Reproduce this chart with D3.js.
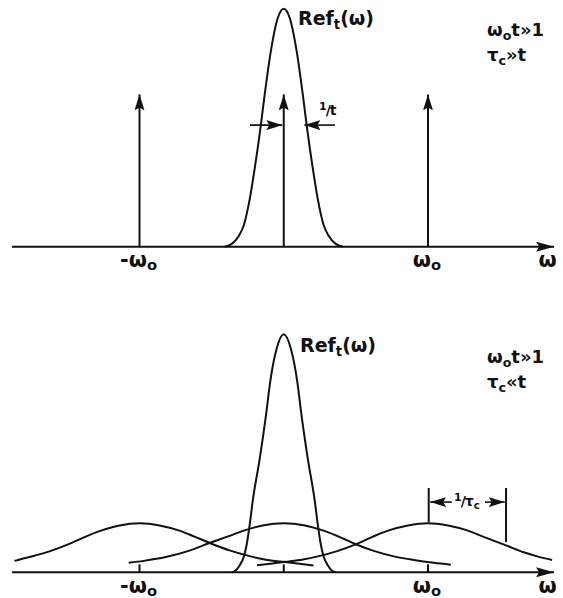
<!DOCTYPE html>
<html>
<head>
<meta charset="utf-8">
<script src="https://cdn.jsdelivr.net/npm/d3@7"></script>
<style>
  html, body { margin: 0; padding: 0; background: #fff; }
  svg { display: block; }
  text { font-family: "DejaVu Sans", "Liberation Sans", sans-serif; font-weight: bold; fill: #111; }
</style>
</head>
<body>
<svg></svg>
<script>
// axis ticks (in units of omega_0)
var omegaTicks = [-1, 0, 1];
var tickMain = ["-ω", "", "ω"];
var tickSub = ["o", "", "o"];

// delta functions of the upper panel
var deltaOmega = [-1, 0, 1];
var deltaWeight = [0.64, 0.64, 0.64];

// Ref_t(omega), upper panel
var refTopOmega = [-0.409, -0.360, -0.312, -0.277, -0.236, -0.201, -0.159, -0.132, -0.090, -0.042, 0,
    0.042, 0.090, 0.132, 0.159, 0.201, 0.236, 0.277, 0.312, 0.360, 0.409];
var refTopValue = [0, 0.012, 0.045, 0.09, 0.20, 0.33, 0.51, 0.64, 0.82, 0.96, 1,
    0.96, 0.82, 0.64, 0.51, 0.33, 0.20, 0.09, 0.045, 0.012, 0];

// Ref_t(omega), lower panel
var refBottomOmega = [-0.360, -0.333, -0.305, -0.277, -0.256, -0.236, -0.215, -0.166, -0.121, -0.094, -0.049, 0,
    0.049, 0.094, 0.121, 0.166, 0.215, 0.236, 0.256, 0.277, 0.305, 0.333, 0.360];
var refBottomValue = [0, 0.008, 0.03, 0.065, 0.12, 0.2, 0.3, 0.48, 0.67, 0.8, 0.94, 1,
    0.94, 0.8, 0.67, 0.48, 0.3, 0.2, 0.12, 0.065, 0.03, 0.008, 0];

// broadened lines, lower panel
var lineLeftOmega = [-1.867, -1.763, -1.624, -1.499, -1.381, -1.277, -1.139, -1, -0.861, -0.723, -0.619,
    -0.501, -0.376, -0.237, -0.133, 0.005, 0.109, 0.206];
var lineLeftValue = [0.048, 0.064, 0.088, 0.116, 0.148, 0.173, 0.197, 0.206, 0.197, 0.175, 0.150,
    0.120, 0.092, 0.068, 0.054, 0.043, 0.036, 0.029];

var lineMidOmega = [-1.075, -0.971, -0.818, -0.659, -0.520, -0.381, -0.277, -0.139, 0, 0.139, 0.277,
    0.381, 0.499, 0.624, 0.763, 0.901, 1.040, 1.158];
var lineMidValue = [0.040, 0.048, 0.064, 0.090, 0.122, 0.152, 0.175, 0.198, 0.206, 0.198, 0.175,
    0.150, 0.118, 0.090, 0.067, 0.052, 0.040, 0.032];

var lineRightOmega = [-0.185, -0.109, 0.009, 0.133, 0.237, 0.376, 0.494, 0.619, 0.723, 0.861, 1,
    1.139, 1.277, 1.381, 1.541, 1.659, 1.763, 1.860];
var lineRightValue = [0.030, 0.035, 0.044, 0.054, 0.067, 0.090, 0.116, 0.150, 0.175, 0.197, 0.206,
    0.197, 0.175, 0.150, 0.113, 0.085, 0.066, 0.052];

var width = 563, height = 598;

var svg = d3.select("svg")
    .attr("width", width)
    .attr("height", height);

svg.append("rect").attr("width", width).attr("height", height).attr("fill", "#fff");

var defs = svg.append("defs");
defs.append("marker")
    .attr("id", "head")
    .attr("viewBox", "0 0 16 10")
    .attr("refX", 16).attr("refY", 5)
    .attr("markerUnits", "userSpaceOnUse")
    .attr("markerWidth", 16).attr("markerHeight", 10)
    .attr("orient", "auto")
  .append("path")
    .attr("d", "M0,0 L16,5 L0,10 L3,5 Z")
    .attr("fill", "#111");
defs.append("marker")
    .attr("id", "axhead")
    .attr("viewBox", "0 0 18 10")
    .attr("refX", 18).attr("refY", 5)
    .attr("markerUnits", "userSpaceOnUse")
    .attr("markerWidth", 18).attr("markerHeight", 10)
    .attr("orient", "auto")
  .append("path")
    .attr("d", "M0,0 L18,5 L0,10 L3,5 Z")
    .attr("fill", "#111");

var x = d3.scaleLinear().domain([-1, 1]).range([139.5, 428]);

function zip(a, b) { return a.map(function (v, i) { return [v, b[i]]; }); }

// text with subscripts: parts = [[string, isSub], ...]
function label(g, px, py, parts, size, anchor, drop) {
    drop = drop || 4;
    var t = g.append("text")
        .attr("x", px).attr("y", py)
        .attr("font-size", size)
        .attr("text-anchor", anchor || "start");
    var shift = 0;
    parts.forEach(function (p) {
        var s = t.append("tspan").text(p[0]);
        if (p[1] && !shift) { s.attr("font-size", size * 0.7).attr("dy", drop); shift = drop; }
        else if (!p[1] && shift) { s.attr("dy", -shift); shift = 0; }
    });
    return t;
}

// "1/x" written as a small slanted fraction
function fraction(g, px, py, parts) {
    var t = g.append("text").attr("x", px).attr("y", py);
    t.append("tspan").attr("font-size", 11).attr("dy", -5).text("1");
    t.append("tspan").attr("font-size", 14).attr("dx", -1).attr("dy", 5).text("/");
    parts.forEach(function (p, i) {
        var s = t.append("tspan").text(p[0]).attr("dx", i ? 0 : -1);
        if (p[1]) s.attr("font-size", 10).attr("dy", 3);
        else s.attr("font-size", 14);
    });
    return t;
}

function panel(axisY) {
    var y = d3.scaleLinear().domain([0, 1]).range([axisY, axisY - 238]);
    var g = svg.append("g");

    // omega axis
    g.append("line")
        .attr("x1", x(-1.884)).attr("x2", x(1.874))
        .attr("y1", y(0)).attr("y2", y(0))
        .attr("stroke", "#111").attr("stroke-width", 2)
        .attr("marker-end", "url(#axhead)");

    label(g, x(1.83), y(0) + 20.5, [["ω"]], 21, "middle");

    omegaTicks.forEach(function (d, i) {
        if (!tickMain[i]) return;
        label(g, x(d) - 1, y(0) + 20.5, [[tickMain[i]], [tickSub[i], true]], 21, "middle", 3);
    });

    return { g: g, y: y };
}

var line = function (y) {
    return d3.line()
        .x(function (d) { return x(d[0]); })
        .y(function (d) { return y(d[1]); })
        .curve(d3.curveMonotoneX);
};

function curve(p, om, val) {
    p.g.append("path")
        .attr("d", line(p.y)(zip(om, val)))
        .attr("fill", "none")
        .attr("stroke", "#111")
        .attr("stroke-width", 2);
}

// ---- upper panel: omega_0 t >> 1, tau_c >> t
var upper = panel(246.7);

upper.g.selectAll("line.delta")
    .data(zip(deltaOmega, deltaWeight))
    .enter().append("line")
    .attr("class", "delta")
    .attr("x1", function (d) { return x(d[0]); })
    .attr("x2", function (d) { return x(d[0]); })
    .attr("y1", upper.y(0))
    .attr("y2", function (d) { return upper.y(d[1]); })
    .attr("stroke", "#111").attr("stroke-width", 2)
    .attr("marker-end", "url(#head)");

curve(upper, refTopOmega, refTopValue);

label(upper.g, 298, 25, [["Ref"], ["t", true], ["(ω)"]], 19);

// 1/t width arrows
upper.g.append("line")
    .attr("x1", x(-0.234)).attr("x2", x(-0.010))
    .attr("y1", upper.y(0.511)).attr("y2", upper.y(0.511))
    .attr("stroke", "#111").attr("stroke-width", 1.6)
    .attr("marker-end", "url(#head)");
upper.g.append("line")
    .attr("x1", x(0.355)).attr("x2", x(0.143))
    .attr("y1", upper.y(0.511)).attr("y2", upper.y(0.511))
    .attr("stroke", "#111").attr("stroke-width", 1.6)
    .attr("marker-end", "url(#head)");
fraction(upper.g, 319, 115, [["t"]]);

label(upper.g, 487, 36, [["ω"], ["o", true], ["t»1"]], 18);
label(upper.g, 487, 61, [["τ"], ["c", true], ["»t"]], 18);

// ---- lower panel: omega_0 t >> 1, tau_c << t
var lower = panel(572.3);

lower.g.selectAll("line.tick")
    .data(omegaTicks)
    .enter().append("line")
    .attr("class", "tick")
    .attr("x1", function (d) { return x(d); })
    .attr("x2", function (d) { return x(d); })
    .attr("y1", lower.y(0))
    .attr("y2", lower.y(0) - 8)
    .attr("stroke", "#111").attr("stroke-width", 2);

curve(lower, lineLeftOmega, lineLeftValue);
curve(lower, lineMidOmega, lineMidValue);
curve(lower, lineRightOmega, lineRightValue);
curve(lower, refBottomOmega, refBottomValue);

label(lower.g, 300, 352, [["Ref"], ["t", true], ["(ω)"]], 19);

// 1/tau_c width bars
lower.g.append("line")
    .attr("x1", x(1.005)).attr("x2", x(1.005))
    .attr("y1", lower.y(0.354)).attr("y2", lower.y(0.21))
    .attr("stroke", "#111").attr("stroke-width", 2);
lower.g.append("line")
    .attr("x1", x(1.541)).attr("x2", x(1.541))
    .attr("y1", lower.y(0.354)).attr("y2", lower.y(0.127))
    .attr("stroke", "#111").attr("stroke-width", 2);
lower.g.append("line")
    .attr("x1", x(1.165)).attr("x2", x(1.015))
    .attr("y1", lower.y(0.295)).attr("y2", lower.y(0.295))
    .attr("stroke", "#111").attr("stroke-width", 1.6)
    .attr("marker-end", "url(#head)");
lower.g.append("line")
    .attr("x1", x(1.395)).attr("x2", x(1.532))
    .attr("y1", lower.y(0.295)).attr("y2", lower.y(0.295))
    .attr("stroke", "#111").attr("stroke-width", 1.6)
    .attr("marker-end", "url(#head)");
fraction(lower.g, 454, 506, [["τ"], ["c", true]]);

label(lower.g, 487, 363, [["ω"], ["o", true], ["t»1"]], 18);
label(lower.g, 487, 388, [["τ"], ["c", true], ["«t"]], 18);
</script>
</body>
</html>
